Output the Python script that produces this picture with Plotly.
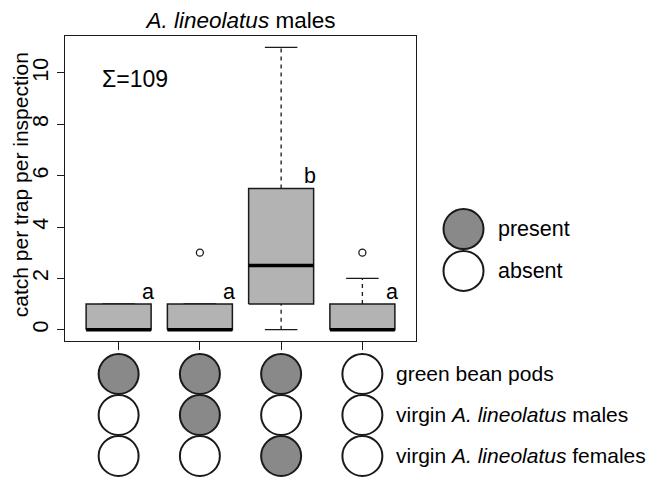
import plotly.graph_objects as go

# Données
positions = [1, 2, 3, 4]
q1 = [0, 0, 1, 0]
mediane = [0, 0, 2.5, 0]
q3 = [1, 1, 5.5, 1]
bas = [0, 0, 0, 0]
haut = [1, 1, 11, 2]
out_x = [2, 4]
out_y = [3, 3]
lettres = ["a", "a", "b", "a"]
lettres_y = [1.47, 1.47, 6.0, 1.47]
somme = "Σ=109"

# Plan des traitements (1 = présent, 0 = absent)
traitements = ["green bean pods",
               "virgin <i>A. lineolatus</i> males",
               "virgin <i>A. lineolatus</i> females"]
matrice = [[1, 1, 1, 0],
           [0, 1, 0, 0],
           [0, 0, 1, 0]]
legende = ["present", "absent"]
legende_y = [3.92, 2.29]

gris_boite = "#b3b3b3"
gris_plein = "#898989"
noir = "#1a1a1a"
police = "Liberation Sans, Arial, Helvetica, sans-serif"
demi = 0.4
agrafe = 0.2
taille = 21.5

fig = go.Figure()

# moustaches (pointillés) et agrafes
wx, wy, sx, sy = [], [], [], []
for p, a, b, lo, hi in zip(positions, q1, q3, bas, haut):
    if hi > b:
        wx += [p, p, None]; wy += [b, hi, None]
    if lo < a:
        wx += [p, p, None]; wy += [lo, a, None]
    sx += [p - agrafe, p + agrafe, None, p - agrafe, p + agrafe, None]
    sy += [hi, hi, None, lo, lo, None]
fig.add_trace(go.Scatter(x=wx, y=wy, mode="lines", line=dict(color=noir, width=1.3, dash="4px,4px"),
                         hoverinfo="skip"))
fig.add_trace(go.Scatter(x=sx, y=sy, mode="lines", line=dict(color=noir, width=1.3), hoverinfo="skip"))

# boîtes
for p, a, b in zip(positions, q1, q3):
    fig.add_trace(go.Scatter(x=[p - demi, p + demi, p + demi, p - demi, p - demi], y=[a, a, b, b, a],
                             mode="lines", fill="toself", fillcolor=gris_boite,
                             line=dict(color=noir, width=1.5), hoverinfo="skip"))

# médianes
mx, my = [], []
for p, m in zip(positions, mediane):
    mx += [p - demi, p + demi, None]; my += [m, m, None]
fig.add_trace(go.Scatter(x=mx, y=my, mode="lines", line=dict(color="black", width=3.5), hoverinfo="skip"))

# valeurs extrêmes
fig.add_trace(go.Scatter(x=out_x, y=out_y, mode="markers", hoverinfo="skip",
                         marker=dict(symbol="circle-open", size=7, color=noir, line=dict(width=1.3))))

# cercles des traitements
cx, cy, cc = [], [], []
for r, ligne in enumerate(matrice):
    for p, v in zip(positions, ligne):
        cx.append(p); cy.append(r + 1); cc.append(gris_plein if v else "white")
fig.add_trace(go.Scatter(x=cx, y=cy, yaxis="y2", mode="markers", cliponaxis=False, hoverinfo="skip",
                         marker=dict(size=40, color=cc, line=dict(color=noir, width=2))))

# légende (axe x3 en pixels)
fig.add_trace(go.Scatter(x=[47.5, 47.5], y=legende_y, xaxis="x3", mode="markers", cliponaxis=False,
                         hoverinfo="skip",
                         marker=dict(size=40, color=[gris_plein, "white"], line=dict(color=noir, width=2))))

annotations = []
for p, l, ly in zip(positions, lettres, lettres_y):
    annotations.append(dict(x=p + 0.36, y=ly, xref="x", yref="y", text=l, showarrow=False,
                            font=dict(size=taille, color="black", family=police)))
annotations.append(dict(x=0.765, y=9.78, xref="x", yref="y", text=somme, showarrow=False, xanchor="left",
                        font=dict(size=23, color="black", family=police)))
for r, t in enumerate(traitements):
    annotations.append(dict(x=4.39, y=r + 1, xref="x", yref="y2", text=t, showarrow=False, xanchor="left",
                            font=dict(size=21, color="black", family=police)))
for t, ly in zip(legende, legende_y):
    annotations.append(dict(x=80, y=ly, xref="x3", yref="y", text=t, showarrow=False, xanchor="left",
                            font=dict(size=taille, color="black", family=police)))
annotations.append(dict(x=-0.074, y=0.6667, xref="paper", yref="paper", text="catch per trap per inspection",
                        textangle=-90, showarrow=False, xanchor="center", yanchor="middle",
                        font=dict(size=21, color="black", family=police)))

fig.update_layout(
    width=649, height=475,
    margin=dict(l=57, r=0, t=28, b=0),
    plot_bgcolor="white", paper_bgcolor="white",
    showlegend=False,
    font=dict(family=police, color="black"),
    title=dict(text="<i>A. lineolatus</i> males", x=(176 / 592), xref="paper", xanchor="center",
               y=1 - 4 / 475, yref="container", yanchor="top", pad=dict(t=0),
               font=dict(size=22.5, color="black")),
    xaxis=dict(range=[0.34, 4.66], domain=[0, 351 / 592], tickvals=positions, showticklabels=False,
               ticks="outside", ticklen=8, tickwidth=1.3, tickcolor=noir, showline=True, mirror=True,
               linecolor=noir, linewidth=1.3, showgrid=False, zeroline=False, anchor="y"),
    xaxis3=dict(range=[0, 241], domain=[351 / 592, 1], anchor="y", visible=False, showgrid=False,
                zeroline=False),
    yaxis=dict(range=[-0.44, 11.44], domain=[0.3177, 1], tickvals=[0, 2, 4, 6, 8, 10], ticks="outside",
               ticklen=7, tickwidth=1.3, tickcolor=noir, tickangle=-90, tickfont=dict(size=taille),
               ticklabelstandoff=0, showline=True, mirror=True, linecolor=noir, linewidth=1.3,
               showgrid=False, zeroline=False, anchor="x"),
    yaxis2=dict(range=[3.659, 0.195], domain=[0, 0.3177], anchor="x", visible=False, showgrid=False,
                zeroline=False),
    annotations=annotations,
)

fig.write_html("out.html")
